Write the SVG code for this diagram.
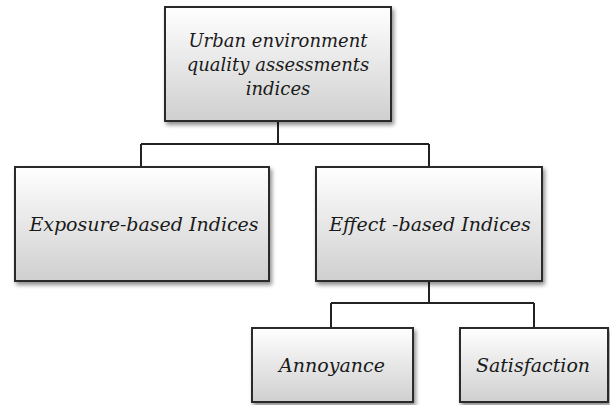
<svg xmlns="http://www.w3.org/2000/svg" width="610" height="405" viewBox="0 0 610 405">
<defs>
<linearGradient id="g" x1="0" y1="0" x2="0" y2="1">
<stop offset="0" stop-color="#ffffff"/>
<stop offset="1" stop-color="#cfcfcf"/>
</linearGradient>
<filter id="sh" x="-10%" y="-10%" width="125%" height="130%">
<feGaussianBlur in="SourceAlpha" stdDeviation="2"/>
<feOffset dx="2" dy="3" result="b"/>
<feComponentTransfer><feFuncA type="linear" slope="0.45"/></feComponentTransfer>
<feMerge><feMergeNode/><feMergeNode in="SourceGraphic"/></feMerge>
</filter>
</defs>
<style>
.box{fill:url(#g);stroke:#2b2b2b;stroke-width:2;filter:url(#sh)}
.t{font-family:'DejaVu Serif',serif;font-style:italic;font-size:19px;fill:#1a1a1a;text-anchor:middle}
.s{font-size:18px}
.c{fill:none;stroke:#222;stroke-width:2}
</style>
<g id="connectors">
<path class="c" d="M278 121 V144 M141 144 H429 M141 144 V167 M429 144 V167"/>
<path class="c" d="M429 281 V303 M331 303 H534 M331 303 V328 M534 303 V328"/>
</g>
<g id="root">
<rect class="box" x="165" y="7" width="226" height="114"/>
<text class="t s" x="278" y="47">Urban environment</text>
<text class="t s" x="278" y="71">quality assessments</text>
<text class="t s" x="278" y="95">indices</text>
</g>
<g id="exposure">
<rect class="box" x="15" y="167" width="254" height="114"/>
<text class="t" x="144" y="231">Exposure-based Indices</text>
</g>
<g id="effect">
<rect class="box" x="316" y="167" width="226" height="114"/>
<text class="t" x="430" y="231">Effect -based Indices</text>
</g>
<g id="annoyance">
<rect class="box" x="252" y="328" width="161" height="74"/>
<text class="t" x="332" y="372">Annoyance</text>
</g>
<g id="satisfaction">
<rect class="box" x="460" y="328" width="148" height="74"/>
<text class="t" x="533" y="372">Satisfaction</text>
</g>
</svg>
